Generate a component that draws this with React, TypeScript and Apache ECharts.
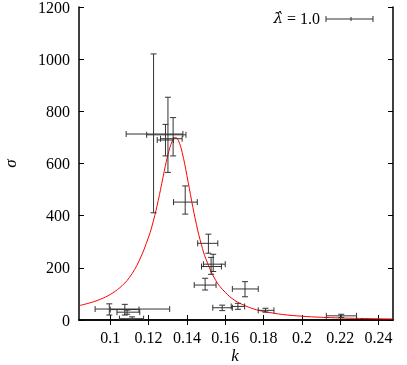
import React, { useEffect, useRef } from "react";
import * as echarts from "echarts";

// Fitted curve (k, sigma)
const curveK = [0.0837, 0.09, 0.095, 0.1, 0.105, 0.11, 0.115, 0.12, 0.1225, 0.125, 0.1275, 0.13, 0.1325, 0.134, 0.1355, 0.1375, 0.14, 0.1425, 0.145, 0.1475, 0.15, 0.155, 0.16, 0.165, 0.17, 0.175, 0.18, 0.19, 0.2, 0.21, 0.22, 0.23, 0.24, 0.2475];
const curveSigma = [55, 67, 80, 98, 124, 163, 226, 318, 380, 457, 546, 631, 689, 700, 689, 643, 554, 455, 365, 290, 232, 152, 106, 75, 56, 42, 33, 21, 14.5, 10.5, 7.8, 6, 4.6, 3.9];

// Data points with error bars
const pointK = [0.1226, 0.1301, 0.1328, 0.1288, 0.1391, 0.1512, 0.1537, 0.1526, 0.1495, 0.1703, 0.1584, 0.1666, 0.181, 0.2205, 0.0995, 0.1076, 0.1088, 0.1114];
const pointSigma = [713, 710, 695, 690, 452, 294, 214, 205, 134, 119, 47, 52, 37, 16, 42, 40, 30, 5];
const kLow = [0.1083, 0.119, 0.1262, 0.1245, 0.133, 0.1456, 0.1486, 0.1476, 0.1438, 0.1637, 0.1535, 0.1631, 0.1772, 0.2127, 0.0921, 0.1, 0.1035, 0.1048];
const kHigh = [0.1379, 0.1395, 0.1375, 0.133, 0.1454, 0.1561, 0.16, 0.158, 0.1552, 0.1772, 0.1637, 0.1701, 0.1854, 0.2285, 0.131, 0.115, 0.1154, 0.1174];
const sigmaLow = [411, 566, 629, 629, 406, 256, 186, 175, 115, 89, 36, 41, 30, 10, 19, 19, 22, 0];
const sigmaHigh = [1020, 854, 776, 750, 514, 329, 252, 240, 160, 147, 57, 64, 45, 22, 62, 60, 38, 12];

const xTicks = [0.1, 0.12, 0.14, 0.16, 0.18, 0.2, 0.22, 0.24];
const xMin = 0.0837;
const xMax = 0.2475;
const yMin = 0;
const yMax = 1200;
const yStep = 200;
const xName = "k";
const yName = "σ";
const legendSymbol = "λ̂";
const legendValue = " = 1.0";

const FONT = '"Liberation Serif", "DejaVu Serif", serif';

export default function App() {
  const ref = useRef<HTMLDivElement>(null);
  useEffect(() => {
    if (!ref.current) return;
    const chart = echarts.init(ref.current, undefined, { renderer: "svg" });
    const errData = pointK.map((k, i) => [k, pointSigma[i], kLow[i], kHigh[i], sigmaLow[i], sigmaHigh[i]]);
    const curveData = curveK.map((k, i) => [k, curveSigma[i]]);
    const axisLine = { show: true, lineStyle: { color: "#000", width: 1.5 } };
    const tick = { show: true, inside: true, length: 5, lineStyle: { color: "#000", width: 1 } };
    const label = { color: "#000", fontFamily: FONT, fontSize: 16 };
    const errStyle = { stroke: "#333", lineWidth: 1, fill: "none" };
    const nameStyle = { color: "#000", fontFamily: FONT, fontSize: 17, fontStyle: "italic", lineHeight: 17 };
    chart.setOption({
      animation: false,
      grid: { left: 79, right: 14, top: 7, bottom: 45, containLabel: false, outerBoundsMode: "none" },
      xAxis: [
        {
          type: "value", min: xMin, max: xMax, position: "bottom",
          axisLine, splitLine: { show: false },
          axisTick: { ...tick, customValues: xTicks },
          axisLabel: { ...label, margin: 9, customValues: xTicks, formatter: (v: number) => String(+v.toFixed(4)) },
        },
        {
          type: "value", min: xMin, max: xMax, position: "top",
          axisLine, splitLine: { show: false },
          axisTick: { ...tick, customValues: xTicks },
          axisLabel: { show: false },
        },
      ],
      yAxis: [
        {
          type: "value", min: yMin, max: yMax, interval: yStep, position: "left",
          axisLine, splitLine: { show: false }, axisTick: tick,
          axisLabel: { ...label, margin: 9, formatter: (v: number) => String(v) },
          name: yName, nameLocation: "middle", nameGap: 60, nameRotate: 90, nameTextStyle: nameStyle,
        },
        {
          type: "value", min: yMin, max: yMax, interval: yStep, position: "right",
          axisLine, splitLine: { show: false }, axisTick: tick,
          axisLabel: { show: false },
        },
      ],
      series: [
        {
          type: "line", data: curveData, showSymbol: false, smooth: 0.4,
          lineStyle: { color: "#ff0000", width: 1 }, clip: true, z: 2,
        },
        {
          type: "custom", data: errData, z: 3, clip: true,
          encode: { x: [0, 2, 3], y: [1, 4, 5] },
          renderItem: (_p: any, api: any) => {
            const k = api.value(0), s = api.value(1);
            const l = api.coord([api.value(2), s]);
            const r = api.coord([api.value(3), s]);
            const b = api.coord([k, api.value(4)]);
            const t = api.coord([k, api.value(5)]);
            const cap = 3;
            const ln = (x1: number, y1: number, x2: number, y2: number) => ({
              type: "line", shape: { x1, y1, x2, y2 }, style: errStyle,
            });
            return {
              type: "group",
              children: [
                ln(l[0], l[1], r[0], r[1]),
                ln(l[0], l[1] - cap, l[0], l[1] + cap),
                ln(r[0], r[1] - cap, r[0], r[1] + cap),
                ln(b[0], b[1], t[0], t[1]),
                ln(b[0] - cap, b[1], b[0] + cap, b[1]),
                ln(t[0] - cap, t[1], t[0] + cap, t[1]),
              ],
            };
          },
        },
      ],
      graphic: [
        {
          type: "text", x: 235, y: 355,
          style: { text: xName, align: "center", verticalAlign: "middle", font: `italic 17px ${FONT}`, fill: "#000" },
        },
        {
          type: "text", x: 320, y: 18,
          style: {
            text: `{s|${legendSymbol}}${legendValue}`, align: "right", verticalAlign: "middle",
            font: `16px ${FONT}`, fill: "#000",
            rich: { s: { fontFamily: '"DejaVu Serif"', fontStyle: "italic", fontSize: 15 } },
          },
        },
        { type: "line", shape: { x1: 326, y1: 19, x2: 373, y2: 19 }, style: errStyle },
        { type: "line", shape: { x1: 326, y1: 16, x2: 326, y2: 22 }, style: errStyle },
        { type: "line", shape: { x1: 373, y1: 16, x2: 373, y2: 22 }, style: errStyle },
        { type: "line", shape: { x1: 351, y1: 17, x2: 351, y2: 21 }, style: errStyle },
      ],
    });
    return () => chart.dispose();
  }, []);
  return <div ref={ref} style={{ position: "fixed", left: 0, top: 0, width: 407, height: 365 }} />;
}
